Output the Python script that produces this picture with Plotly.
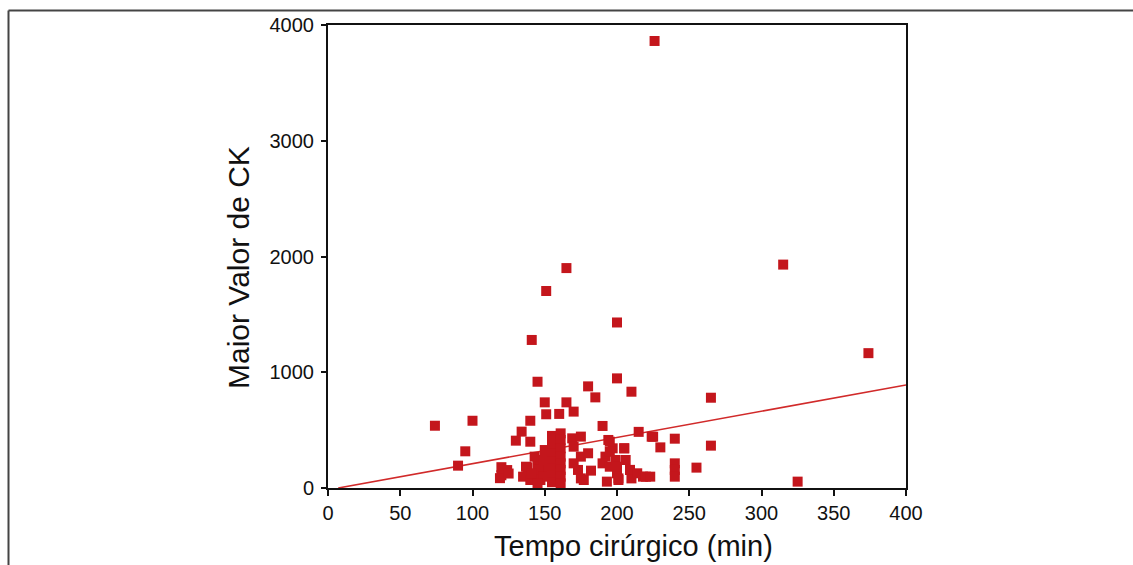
import plotly.graph_objects as go

# Data (Tempo cirúrgico in min, Maior Valor de CK)
tempo = [
    226, 165, 151, 200, 141, 315, 374, 325,
    74, 100, 145, 140, 134, 130, 140, 150, 165, 151, 160, 170, 180, 185, 190, 200, 210, 215, 224, 265, 95, 90,
    120, 124, 120, 119, 125,
    138, 141, 135, 145, 137, 142, 147, 145, 150, 140, 147, 143, 146, 149, 150, 149, 145, 141,
    155, 155, 155, 155, 155, 155, 155,
    161, 161, 161, 161, 161, 161, 161, 161,
    169, 175, 170, 175, 170, 173, 175, 177,
    180, 182,
    194, 197, 192, 190, 195, 200, 201, 193,
    195, 195, 199, 200, 201, 209, 210, 218, 205, 205, 206, 209, 214, 220,
    225, 230, 240, 240, 240, 240, 223, 255, 265,
]
ck = [
    3862, 1900, 1702, 1430, 1279, 1930, 1165, 55,
    538, 581, 918, 581, 487, 409, 400, 740, 740, 637, 640, 660, 878, 783, 536, 947, 832, 485, 443, 780, 317, 193,
    180, 155, 110, 85, 125,
    179, 112, 98, 242, 184, 98, 242, 156, 156, 69, 69, 271, 156, 242, 328, 98, 40, 127,
    450, 380, 300, 230, 170, 110, 50,
    472, 415, 343, 271, 213, 156, 98, 40,
    429, 444, 357, 271, 213, 156, 83, 69,
    300, 150,
    415, 343, 271, 213, 184, 127, 69, 55,
    400, 313, 242, 184, 83, 156, 83, 98, 343, 343, 242, 156, 127, 98,
    443, 351, 426, 213, 156, 98, 98, 176, 366,
]

x_ticks = [0, 50, 100, 150, 200, 250, 300, 350, 400]
y_ticks = [0, 1000, 2000, 3000, 4000]
x_title = "Tempo cirúrgico (min)"
y_title = "Maior Valor de CK"

# Linear fit parameters
fit_intercept = -16.0
fit_slope = 2.265
fit_x_end = 400.0

W, H = 1133, 565
L, R, T, B = 328, 227, 25, 77
pw, ph = W - L - R, H - T - B

def px2paper_x(px):
    return (px - L) / pw

def py2paper_y(py):
    return (H - B - py) / ph

red = "#c4161c"
ink = "#111"
font_family = "Liberation Sans, Arial, sans-serif"

fig = go.Figure()

fit_x_start = -fit_intercept / fit_slope
fig.add_trace(go.Scatter(
    x=[fit_x_start, fit_x_end],
    y=[fit_intercept + fit_slope * fit_x_start, fit_intercept + fit_slope * fit_x_end],
    mode="lines", line=dict(color="#d12a2a", width=1.6),
    hoverinfo="skip", showlegend=False,
))

fig.add_trace(go.Scatter(
    x=tempo, y=ck, mode="markers",
    marker=dict(symbol="square", size=10, color=red, line=dict(width=0)),
    showlegend=False,
))

fig.update_layout(
    width=W, height=H,
    margin=dict(l=L, r=R, t=T, b=B),
    paper_bgcolor="white", plot_bgcolor="white",
    font=dict(family=font_family, color=ink),
    xaxis=dict(
        range=[0, 400], tickmode="array", tickvals=x_ticks,
        showgrid=False, zeroline=False,
        showline=True, linecolor=ink, linewidth=2, mirror=True,
        ticks="outside", ticklen=6, tickwidth=1.5, tickcolor=ink,
        tickfont=dict(size=20, family=font_family, color=ink),
    ),
    yaxis=dict(
        range=[0, 4000], tickmode="array", tickvals=y_ticks,
        showgrid=False, zeroline=False,
        showline=True, linecolor=ink, linewidth=2, mirror=True,
        ticks="outside", ticklen=5, tickwidth=1.5, tickcolor=ink,
        ticklabelstandoff=3,
        tickfont=dict(size=20, family=font_family, color=ink),
    ),
    annotations=[
        dict(text=x_title, xref="paper", yref="paper",
             x=px2paper_x(633), y=py2paper_y(546), xanchor="center", yanchor="middle",
             showarrow=False, font=dict(size=29, family=font_family, color=ink)),
        dict(text=y_title, xref="paper", yref="paper", textangle=-90,
             x=px2paper_x(238), y=py2paper_y(268), xanchor="center", yanchor="middle",
             showarrow=False, font=dict(size=30, family=font_family, color=ink)),
    ],
    shapes=[
        dict(type="line", xref="paper", yref="paper",
             x0=px2paper_x(8.5), y0=py2paper_y(10.5), x1=px2paper_x(W + 5), y1=py2paper_y(10.5),
             line=dict(color="#444", width=2)),
        dict(type="line", xref="paper", yref="paper",
             x0=px2paper_x(8.5), y0=py2paper_y(10.5), x1=px2paper_x(8.5), y1=py2paper_y(H + 5),
             line=dict(color="#444", width=2)),
    ],
)

fig.write_html("out.html")
